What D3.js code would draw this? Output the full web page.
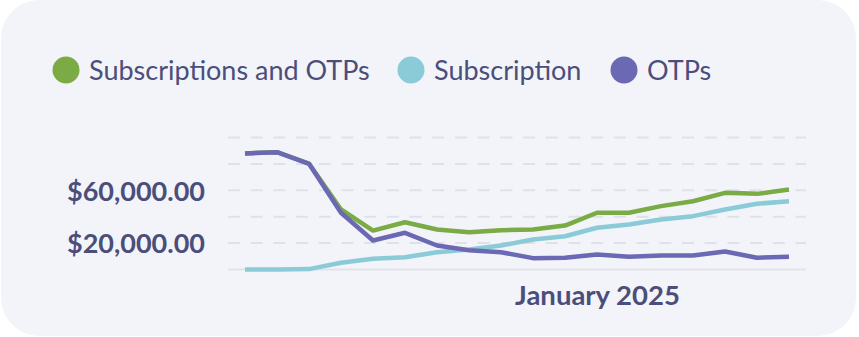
<!DOCTYPE html>
<html>
<head>
<meta charset="utf-8">
<script src="https://cdn.jsdelivr.net/npm/d3@7"></script>
<style>
  html, body { margin: 0; padding: 0; background: #ffffff; }
  svg { display: block; }
  text { font-family: Lato, "Noto Sans", sans-serif; }
</style>
</head>
<body>
<svg id="chart" width="859" height="337"></svg>
<script>
// Monthly revenue, Feb 2024 – Jul 2025
const months = [
  "2024-02", "2024-03", "2024-04", "2024-05", "2024-06", "2024-07",
  "2024-08", "2024-09", "2024-10", "2024-11", "2024-12", "2025-01",
  "2025-02", "2025-03", "2025-04", "2025-05", "2025-06", "2025-07"
];
const subscriptionsAndOtps = [
  87900, 88900, 80300, 45500, 29500, 35800, 30300, 28300, 29800,
  30300, 33300, 43000, 43000, 48000, 51700, 58100, 57300, 60600
];
const subscription = [
  0, 0, 300, 5100, 8100, 9300, 13100, 15200, 18200,
  22700, 25200, 31600, 34100, 37900, 40400, 45500, 49800, 51700
];
const otps = [
  87900, 88900, 80100, 43000, 22000, 27800, 18200, 14600, 13100,
  8600, 8900, 11400, 9600, 10600, 10600, 13600, 8900, 9600
];
const gridValues = [0, 20000, 40000, 60000, 80000, 100000];
const yTickValues = [20000, 60000];
const xTickValues = ["2025-01"];
const xTickLabels = { "2025-01": "January 2025" };

const seriesNames = ["Subscriptions and OTPs", "Subscription", "OTPs"];
const seriesColors = ["#7aab45", "#8bcad7", "#6b68b4"];
const seriesData = [subscriptionsAndOtps, subscription, otps];

const svg = d3.select("#chart");
const W = 859, H = 337;

// card background
svg.append("rect")
  .attr("x", 1).attr("y", 0)
  .attr("width", W - 4).attr("height", H - 1)
  .attr("rx", 38).attr("ry", 38)
  .attr("fill", "#f2f4f9");

const x = d3.scalePoint().domain(months).range([245, 789]);
const y = d3.scaleLinear().domain([0, 100000]).range([269.5, 137.5]);

// dashed grid
svg.append("g")
  .selectAll("line")
  .data(gridValues.filter(v => v > 0))
  .join("line")
  .attr("x1", 228).attr("x2", 806)
  .attr("y1", d => y(d)).attr("y2", d => y(d))
  .attr("stroke", "#dfe1e8")
  .attr("stroke-width", 2)
  .attr("stroke-dasharray", "12,10.7");

// baseline
svg.append("line")
  .attr("x1", 228).attr("x2", 806)
  .attr("y1", y(0)).attr("y2", y(0))
  .attr("stroke", "#e1e3ea")
  .attr("stroke-width", 2);

// y axis labels
const yAxis = d3.axisLeft(y)
  .tickValues(yTickValues)
  .tickSize(0)
  .tickPadding(0)
  .tickFormat(d => "$" + d3.format(",.2f")(d));
const gy = svg.append("g").attr("transform", "translate(205,0)").call(yAxis);
gy.select(".domain").remove();
gy.selectAll("text")
  .attr("fill", "#4b4e7b")
  .attr("font-size", 27)
  .attr("font-weight", 700)
  .attr("dy", "0.36em");

// x axis label
const xAxis = d3.axisBottom(x)
  .tickValues(xTickValues)
  .tickSize(0)
  .tickPadding(0)
  .tickFormat(d => xTickLabels[d]);
const gx = svg.append("g").attr("transform", "translate(0,305)").call(xAxis);
gx.select(".domain").remove();
gx.selectAll("text")
  .attr("fill", "#4b4e7b")
  .attr("font-size", 27.5)
  .attr("font-weight", 700)
  .attr("dy", "0");

// lines
const line = d3.line()
  .x((d, i) => x(months[i]))
  .y(d => y(d));

svg.append("g")
  .selectAll("path")
  .data(seriesData)
  .join("path")
  .attr("d", d => line(d))
  .attr("fill", "none")
  .attr("stroke", (d, i) => seriesColors[i])
  .attr("stroke-width", 4.5)
  .attr("stroke-linejoin", "round");

// legend
const legendX = [66, 411, 624];
const lg = svg.append("g")
  .selectAll("g")
  .data(seriesNames)
  .join("g")
  .attr("transform", (d, i) => `translate(${legendX[i]},70)`);
lg.append("circle")
  .attr("r", 13.5)
  .attr("fill", (d, i) => seriesColors[i]);
lg.append("text")
  .attr("x", 23)
  .attr("dy", "0.36em")
  .attr("font-size", 27)
  .attr("fill", "#4b4e7b")
  .text(d => d);
</script>
</body>
</html>
